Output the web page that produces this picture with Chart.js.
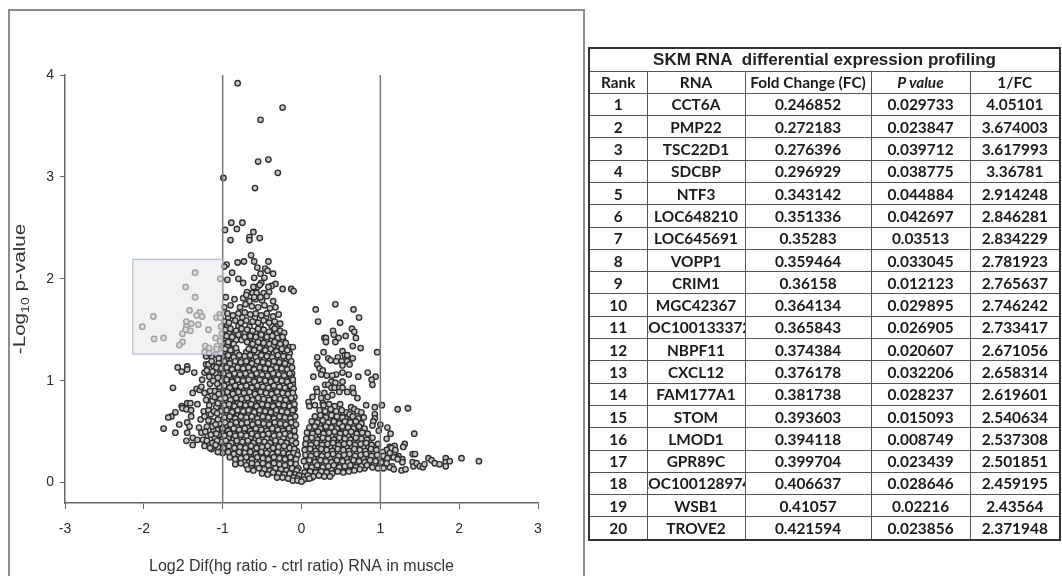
<!DOCTYPE html>
<html>
<head>
<meta charset="utf-8">
<script src="https://cdn.jsdelivr.net/npm/chart.js@4/dist/chart.umd.min.js"></script>
<style>
html, body { margin: 0; padding: 0; background: #fff; overflow: hidden; width: 1062px; height: 576px; }
#frame { position: absolute; left: 8px; top: 9px; width: 573px; height: 600px; border: 2px solid #8c8c8c; }
#plot { position: absolute; left: 0; top: 0; filter: blur(0.35px); }
#expr { position: absolute; left: 588px; top: 47px; width: 471px; border-collapse: collapse; table-layout: fixed;
        border: 2px solid #333; font: bold 15.4px Lato, sans-serif; color: #1a1a1a; text-align: center; filter: blur(0.35px); }
#expr td, #expr th { border: 1px solid #555; padding: 0; height: 21.3px; font-weight: bold; overflow: hidden; }
#expr .title { font: bold 17px "Liberation Sans", sans-serif; height: 21.5px; line-height: 20px; color: #222; }
#expr .cell { display: flex; justify-content: center; white-space: nowrap; overflow: hidden; }
</style>
</head>
<body>
<div id="frame"></div>
<canvas id="plot" width="583" height="576"></canvas>
<table id="expr"><colgroup><col style="width:58px"><col style="width:98px"><col style="width:126px"><col style="width:99px"><col style="width:90px"></colgroup><tbody></tbody></table>
<script>
const xTicks = [-3, -2, -1, 0, 1, 2, 3];
const yTicks = [0, 1, 2, 3, 4];
const cutoffs = [-1, 1];
const shadeX = [-2.14, -1];
const shadeY = [1.26, 2.19];

// x = log2 difference, y = -log10 p
const topPoints = [[-.81,3.92],[-.24,3.68],[-.52,3.56],[-.42,3.17],[-.55,3.15],[-.30,3.04],[-.99,2.99],[-.59,2.89],
[-.89,2.55],[-.75,2.55],[-.97,2.48],[-.82,2.49],[-.61,2.46],[-.66,2.41],[-.66,2.38],[-.53,2.40],[-.90,2.38],
[-.64,2.23],[-.60,2.17],[-.42,2.17],[-.81,2.16],[-.73,2.17],[-.95,2.14],[-.98,2.12],[-.56,2.11],[-.46,2.10],[-.43,2.08],
[-.88,2.06],[-.52,2.05],[-.36,2.05],[-.60,2.01],[-.47,2.01],[-.94,1.99],[-.80,2.00],[-.74,1.96],[-.51,1.96],
[-.24,1.90],[-.13,1.90],[-.10,1.88],[-.33,1.95],[-.38,1.93],[-.42,1.92],[-.41,1.87],[-.48,1.86],[-.56,1.92],[-.61,1.92],
[-.53,1.94],[-.69,1.87],[-.70,1.84],[-.62,1.86],[-.57,1.86],[-.60,1.82],[-.52,1.82],[-.44,1.83]];

const shadedPoints = [[-1.35,2.06],[-1.47,1.92],[-1.35,1.82],[-1.03,2.00],[-1.42,1.69],[-1.88,1.63],[-1.29,1.67],[-1.33,1.64],
[-1.26,1.63],[-1.46,1.58],[-1.40,1.56],[-1.31,1.55],[-2.02,1.53],[-1.46,1.53],[-1.41,1.49],[-1.47,1.50],[-1.51,1.46],
[-1.18,1.50],[-1.87,1.41],[-1.75,1.42],[-1.51,1.38],[-1.55,1.35],[-1.09,1.42],[-1.04,1.65],[-1.08,1.62],[-1.03,1.62],
[-1.02,1.53],[-1.03,1.39],[-1.07,1.34],[-1.08,1.31],[-1.22,1.34],[-1.17,1.32],[-1.23,1.28],[-1.17,1.27],[-1.03,1.27],[-1.01,1.46]];

const lowLeftPoints = [[-1.21,1.24],[-1.14,1.24],[-1.08,1.26],[-1.57,1.13],[-1.52,1.09],[-1.45,1.14],[-1.45,1.11],[-1.36,1.08],[-1.63,.93],
[-1.52,.75],[-1.51,.73],[-1.45,.78],[-1.41,.78],[-1.32,.77],[-1.46,.72],[-1.40,.71],[-1.40,.65],[-1.60,.69],[-1.65,.65],
[-1.69,.64],[-1.75,.53],[-1.55,.57],[-1.60,.49],[-1.45,.59],[-1.42,.55],[-1.45,.49],[-1.46,.41],[-1.38,.37],[-1.38,.44],
[-1.32,.42],[-1.33,.92],[-1.38,.88],[-1.29,.91],[-1.26,1.01],[-1.27,.94],[-1.23,1.08],[-1.21,1.16],[-1.18,1.16],[-1.19,.84],
[-1.23,.88],[-1.21,.81],[-1.20,1.10],[-1.17,1.04],[-1.16,.97],[-1.24,.70],[-1.18,.71],[-1.28,.62],[-1.23,.65],[-1.15,.67],
[-1.30,.54],[-1.27,.49],[-1.20,.55],[-1.13,.60],[-1.25,.42],[-1.19,.46],[-1.12,.52],[-1.23,.36],[-1.17,.39],[-1.10,.44],
[-1.14,.33],[-1.10,.90],[-1.13,.80],[-1.08,.74],[-1.11,1.14],[-1.14,1.19],[-1.06,.62],[-1.07,.97],[-1.09,1.07],[-1.16,.90],
[-1.12,1.00],[-1.06,1.03],[-1.13,1.09],[-1.08,1.13],[-1.05,1.22],[-1.10,.84],[-1.05,.87],[-1.06,.78],[-1.17,.76],[-1.11,.70],
[-1.07,.68],[-1.18,.61],[-1.13,.55],[-1.09,.57],[-1.22,.50],[-1.15,.47],[-1.08,.48],[-1.20,.41],[-1.13,.39],[-1.07,.41],[-1.16,.34],[-1.09,.37],[-1.06,.30]];

const leftLobe = [
[-.96,1.82],[-.85,1.80],[-.74,1.81],[-.66,1.78],[-.58,1.80],[-.50,1.79],[-.36,1.78],
[-.98,1.72],[-.90,1.74],[-.78,1.72],[-.71,1.75],[-.63,1.73],[-.55,1.72],[-.47,1.74],[-.40,1.71],[-.33,1.72],
[-.94,1.66],[-.87,1.64],[-.80,1.66],[-.72,1.67],[-.65,1.65],[-.58,1.66],[-.51,1.64],[-.44,1.66],[-.36,1.63],[-.29,1.65],
[-.98,1.58],[-.92,1.57],[-.84,1.59],[-.77,1.57],[-.70,1.59],[-.62,1.58],[-.55,1.57],[-.48,1.59],[-.41,1.57],[-.34,1.58],[-.27,1.56],
[-.97,1.50],[-.90,1.51],[-.83,1.49],[-.76,1.51],[-.69,1.50],[-.62,1.49],[-.55,1.51],[-.48,1.50],[-.41,1.48],[-.34,1.51],[-.27,1.49],[-.22,1.47],
[-.95,1.44],[-.88,1.43],[-.80,1.45],[-.72,1.43],[-.65,1.44],[-.58,1.43],[-.51,1.45],[-.44,1.43],[-.37,1.44],[-.30,1.42],[-.24,1.43],
[-1.0,1.37],[-.93,1.38],[-.86,1.36],[-.69,1.38],[-.62,1.36],[-.55,1.38],[-.48,1.37],[-.41,1.36],[-.34,1.38],[-.27,1.36],[-.20,1.37],[-.11,1.33],
[-1.04,1.30],[-.97,1.31],[-.90,1.30],[-.83,1.32],[-.67,1.31],[-.60,1.30],[-.53,1.32],[-.46,1.30],[-.39,1.31],[-.32,1.29],[-.25,1.31],[-.18,1.30],
[-1.0,1.24],[-.93,1.25],[-.86,1.23],[-.79,1.25],[-.72,1.24],[-.65,1.25],[-.58,1.23],[-.51,1.25],[-.44,1.24],[-.37,1.23],[-.30,1.25],[-.23,1.24],[-.16,1.23],
[-1.05,1.18],[-.98,1.19],[-.91,1.17],[-.84,1.19],[-.77,1.18],[-.70,1.19],[-.63,1.17],[-.56,1.19],[-.49,1.18],[-.42,1.17],[-.35,1.19],[-.28,1.18],[-.21,1.17],[-.13,1.19],
[-1.02,1.12],[-.95,1.13],[-.88,1.11],[-.81,1.13],[-.74,1.12],[-.67,1.13],[-.60,1.11],[-.53,1.13],[-.46,1.12],[-.39,1.11],[-.32,1.13],[-.25,1.12],[-.18,1.11],[-.12,1.13],
[-1.05,1.06],[-.99,1.07],[-.92,1.05],[-.85,1.07],[-.78,1.06],[-.71,1.07],[-.64,1.05],[-.57,1.07],[-.50,1.06],[-.43,1.05],[-.36,1.07],[-.29,1.06],[-.22,1.05],[-.15,1.07],
[-1.02,1.00],[-.95,1.01],[-.88,.99],[-.81,1.01],[-.74,1.00],[-.67,1.01],[-.60,.99],[-.53,1.01],[-.46,1.00],[-.39,.99],[-.32,1.01],[-.25,1.00],[-.18,.99],[-.11,1.01],
[-1.04,.94],[-.98,.95],[-.91,.93],[-.84,.95],[-.77,.94],[-.70,.95],[-.63,.93],[-.56,.95],[-.49,.94],[-.42,.93],[-.35,.95],[-.28,.94],[-.21,.93],[-.14,.95],[-.10,.92],
[-1.0,.88],[-.94,.89],[-.87,.87],[-.80,.89],[-.73,.88],[-.66,.89],[-.59,.87],[-.52,.89],[-.45,.88],[-.38,.87],[-.31,.89],[-.24,.88],[-.17,.87],[-.11,.88],
[-1.03,.82],[-.97,.83],[-.90,.81],[-.83,.83],[-.76,.82],[-.69,.83],[-.62,.81],[-.55,.83],[-.48,.82],[-.41,.81],[-.34,.83],[-.27,.82],[-.20,.81],[-.13,.83],
[-.98,.76],[-.92,.77],[-.85,.75],[-.78,.77],[-.71,.76],[-.64,.77],[-.57,.75],[-.50,.77],[-.43,.76],[-.36,.75],[-.29,.77],[-.22,.76],[-.15,.75],[-.09,.77],
[-1.02,.70],[-.95,.71],[-.88,.69],[-.81,.71],[-.74,.70],[-.67,.71],[-.60,.69],[-.53,.71],[-.46,.70],[-.39,.69],[-.32,.71],[-.25,.70],[-.18,.69],[-.11,.71],
[-.98,.64],[-.91,.65],[-.84,.63],[-.77,.65],[-.70,.64],[-.63,.65],[-.56,.63],[-.49,.65],[-.42,.64],[-.35,.63],[-.28,.65],[-.21,.64],[-.14,.63],[-.08,.65],
[-1.04,.58],[-.97,.59],[-.90,.57],[-.83,.59],[-.76,.58],[-.69,.59],[-.62,.57],[-.55,.59],[-.48,.58],[-.41,.57],[-.34,.59],[-.27,.58],[-.20,.57],[-.13,.59],[-.07,.57],
[-1.07,.52],[-1.0,.53],[-.93,.51],[-.86,.53],[-.79,.52],[-.72,.53],[-.65,.51],[-.58,.53],[-.51,.52],[-.44,.51],[-.37,.53],[-.30,.52],[-.23,.51],[-.16,.53],[-.09,.51],
[-1.05,.47],[-.98,.46],[-.91,.48],[-.84,.46],[-.77,.47],[-.70,.46],[-.63,.48],[-.56,.46],[-.49,.47],[-.42,.48],[-.35,.46],[-.28,.47],[-.21,.48],[-.14,.46],[-.08,.45],
[-1.03,.40],[-.96,.41],[-.89,.39],[-.82,.41],[-.75,.40],[-.68,.41],[-.61,.39],[-.54,.41],[-.47,.40],[-.40,.39],[-.33,.41],[-.26,.40],[-.19,.39],[-.12,.41],[-.07,.39],
[-1.06,.35],[-.99,.34],[-.92,.36],[-.85,.34],[-.78,.35],[-.71,.34],[-.64,.36],[-.57,.34],[-.50,.35],[-.43,.36],[-.36,.34],[-.29,.35],[-.22,.36],[-.15,.34],[-.09,.33],
[-1.0,.29],[-.93,.30],[-.86,.28],[-.79,.30],[-.72,.29],[-.65,.30],[-.58,.28],[-.51,.30],[-.44,.29],[-.37,.28],[-.30,.30],[-.23,.29],[-.16,.28],[-.10,.29],[-.05,.27],
[-.91,.25],[-.84,.23],[-.77,.24],[-.70,.25],[-.63,.23],[-.56,.25],[-.49,.24],[-.42,.23],[-.35,.25],[-.28,.24],[-.21,.23],[-.14,.25],[-.07,.23],
[-.84,.18],[-.77,.19],[-.70,.17],[-.63,.19],[-.56,.18],[-.49,.19],[-.42,.17],[-.35,.19],[-.28,.18],[-.21,.17],[-.14,.19],[-.07,.18],[-.04,.14],
[-.68,.13],[-.61,.12],[-.54,.14],[-.47,.13],[-.40,.12],[-.33,.14],[-.26,.13],[-.19,.12],[-.12,.14],[-.06,.12],
[-.50,.09],[-.43,.08],[-.36,.10],[-.29,.09],[-.22,.08],[-.15,.09],[-.08,.08],[-.03,.07],
[-.31,.05],[-.24,.05],[-.17,.04],[-.10,.05],[-.05,.04],[-.11,.02],[-.05,.02],[.0,.01]];

// second pass over the same lobe, the black core of the cloud
const leftCore = [
[-.93,1.62],[-.75,1.62],[-.59,1.62],[-.45,1.62],
[-.94,1.54],[-.80,1.54],[-.66,1.53],[-.52,1.55],[-.38,1.54],[-.30,1.54],
[-.92,1.47],[-.85,1.46],[-.78,1.47],[-.66,1.47],[-.58,1.47],[-.52,1.48],[-.44,1.47],[-.38,1.46],[-.31,1.46],[-.25,1.46],
[-.97,1.40],[-.90,1.41],[-.83,1.40],[-.76,1.40],[-.67,1.41],[-.59,1.40],[-.52,1.41],[-.45,1.40],[-.38,1.41],[-.31,1.39],[-.23,1.39],
[-1.0,1.33],[-.94,1.34],[-.87,1.33],[-.64,1.34],[-.57,1.34],[-.50,1.34],[-.43,1.33],[-.36,1.34],[-.29,1.33],[-.22,1.33],[-.15,1.33],
[-.97,1.27],[-.90,1.28],[-.82,1.28],[-.70,1.28],[-.63,1.27],[-.56,1.28],[-.49,1.27],[-.42,1.28],[-.35,1.27],[-.28,1.28],[-.21,1.27],[-.15,1.27],
[-1.02,1.21],[-.95,1.22],[-.89,1.20],[-.82,1.22],[-.75,1.21],[-.68,1.22],[-.61,1.20],[-.54,1.22],[-.47,1.21],[-.40,1.20],[-.33,1.22],[-.26,1.21],[-.19,1.20],
[-.98,1.15],[-.92,1.14],[-.85,1.16],[-.78,1.15],[-.71,1.14],[-.64,1.15],[-.57,1.16],[-.50,1.15],[-.43,1.14],[-.36,1.15],[-.29,1.16],[-.22,1.14],[-.15,1.15],
[-1.0,1.09],[-.95,1.08],[-.88,1.09],[-.81,1.08],[-.74,1.09],[-.67,1.08],[-.60,1.09],[-.53,1.08],[-.46,1.09],[-.39,1.08],[-.32,1.09],[-.25,1.08],[-.18,1.09],[-.12,1.07],
[-.97,1.03],[-.90,1.02],[-.83,1.04],[-.76,1.03],[-.69,1.04],[-.62,1.02],[-.55,1.04],[-.48,1.03],[-.41,1.02],[-.34,1.04],[-.27,1.03],[-.20,1.02],[-.13,1.04],
[-1.0,.97],[-.94,.98],[-.87,.96],[-.80,.98],[-.73,.97],[-.66,.98],[-.59,.96],[-.52,.98],[-.45,.97],[-.38,.96],[-.31,.98],[-.24,.97],[-.17,.96],[-.11,.97],
[-.96,.91],[-.89,.92],[-.82,.90],[-.75,.92],[-.68,.91],[-.61,.90],[-.54,.92],[-.47,.91],[-.40,.90],[-.33,.92],[-.26,.91],[-.19,.90],[-.12,.92],
[-.99,.85],[-.92,.84],[-.85,.86],[-.78,.85],[-.71,.84],[-.64,.85],[-.57,.86],[-.50,.85],[-.43,.84],[-.36,.85],[-.29,.86],[-.22,.84],[-.15,.85],[-.09,.84],
[-.95,.79],[-.88,.80],[-.81,.78],[-.74,.80],[-.67,.79],[-.60,.78],[-.53,.80],[-.46,.79],[-.39,.78],[-.32,.80],[-.25,.79],[-.18,.78],[-.11,.80],
[-1.0,.73],[-.93,.74],[-.86,.72],[-.79,.74],[-.72,.73],[-.65,.72],[-.58,.74],[-.51,.73],[-.44,.72],[-.37,.74],[-.30,.73],[-.23,.72],[-.16,.74],[-.09,.72],
[-.95,.67],[-.88,.68],[-.81,.66],[-.74,.68],[-.67,.67],[-.60,.66],[-.53,.68],[-.46,.67],[-.39,.66],[-.32,.68],[-.25,.67],[-.18,.66],[-.11,.68],
[-1.01,.61],[-.94,.62],[-.87,.60],[-.80,.62],[-.73,.61],[-.66,.60],[-.59,.62],[-.52,.61],[-.45,.60],[-.38,.62],[-.31,.61],[-.24,.60],[-.17,.62],[-.10,.60],
[-1.03,.55],[-.96,.56],[-.89,.54],[-.82,.56],[-.75,.55],[-.68,.54],[-.61,.56],[-.54,.55],[-.47,.54],[-.40,.56],[-.33,.55],[-.26,.54],[-.19,.56],[-.12,.54],
[-1.0,.49],[-.94,.50],[-.87,.49],[-.80,.50],[-.73,.49],[-.66,.48],[-.59,.50],[-.52,.49],[-.45,.48],[-.38,.50],[-.31,.49],[-.24,.48],[-.17,.50],[-.10,.48],
[-1.0,.43],[-.93,.44],[-.86,.43],[-.79,.44],[-.72,.43],[-.65,.44],[-.58,.43],[-.51,.44],[-.44,.43],[-.37,.44],[-.30,.43],[-.23,.44],[-.16,.43],[-.09,.42],
[-1.02,.37],[-.95,.38],[-.88,.37],[-.81,.38],[-.74,.37],[-.67,.38],[-.60,.37],[-.53,.38],[-.46,.37],[-.39,.38],[-.32,.37],[-.25,.38],[-.18,.37],[-.11,.37],
[-.96,.32],[-.89,.33],[-.82,.32],[-.75,.33],[-.68,.32],[-.61,.33],[-.54,.32],[-.47,.33],[-.40,.32],[-.33,.33],[-.26,.32],[-.19,.33],[-.12,.31],[-.06,.31],
[-.88,.27],[-.81,.27],[-.74,.27],[-.67,.27],[-.60,.27],[-.53,.27],[-.46,.27],[-.39,.27],[-.32,.27],[-.25,.27],[-.18,.26],[-.11,.26],
[-.80,.21],[-.73,.21],[-.66,.21],[-.59,.21],[-.52,.21],[-.45,.21],[-.38,.21],[-.31,.21],[-.24,.21],[-.17,.21],[-.10,.21],
[-.64,.16],[-.57,.15],[-.50,.16],[-.43,.15],[-.36,.16],[-.29,.15],[-.22,.16],[-.15,.15],[-.08,.15],
[-.39,.10],[-.32,.11],[-.25,.10],[-.18,.11],[-.11,.10],[-.21,.06],[-.14,.06],[-.07,.06]];

const rightLobe = [
[.43,1.75],[.18,1.70],[.66,1.70],[.73,1.62],[.21,1.58],[.49,1.57],[.64,1.51],[.40,1.49],[.67,1.48],[.41,1.45],[.47,1.42],
[.29,1.42],[.31,1.42],[.31,1.38],[.43,1.38],[.56,1.44],[.69,1.42],[.65,1.34],[.75,1.32],[.52,1.29],[.28,1.28],[.96,1.28],
[.55,1.25],[.58,1.25],[.65,1.22],[.20,1.23],[.34,1.22],[.37,1.20],[.46,1.23],[.44,1.19],[.51,1.19],[.58,1.19],[.61,1.16],
[.52,1.15],[.20,1.16],[.23,1.12],[.27,1.10],[.15,1.04],[.84,1.08],[.94,1.04],[.89,1.01],[.90,.96],[.72,1.04],[.60,1.06],
[.52,1.08],[.44,1.06],[.39,1.05],[.32,1.05],[.25,1.06],[.38,.99],[.30,.96],[.34,.96],[.43,.98],[.52,.99],[.38,.93],[.19,.92],
[.20,.89],[.29,.88],[.42,.93],[.48,.93],[.52,.93],[.65,.93],[.58,.89],[.66,.88],[.48,.89],[.39,.86],[.33,.84],[.25,.83],
[.27,.78],[.71,.83],[.14,.84],[.09,.79],[.10,.75],[.17,.76],[.82,.76],[.93,.74],[1.02,.76],[1.22,.72],[1.35,.73],
[.63,.74],[.67,.72],[.71,.70],[.57,.69],[.76,.69],[.79,.64],[.61,.67],[.65,.65],[.93,.67],[.93,.63],[.91,.60],[.90,.56],
[.98,.51],[1.00,.57],[1.09,.54],[1.13,.48],[1.08,.43],[1.43,.48],[1.31,.38],[1.29,.35],[1.41,.28],[1.44,.28],[1.61,.24],
[1.65,.22],[1.69,.19],[1.75,.18],[1.83,.24],[1.83,.20],[1.83,.16],[1.88,.21],[2.03,.24],[2.25,.21],[1.41,.20],[1.42,.16],
[1.46,.19],[1.50,.16],[1.54,.15],[1.56,.18],[1.27,.12],[1.32,.13],[1.28,.23],[1.28,.20],[1.23,.26],[1.20,.25],[1.15,.25],
[1.12,.35],[1.18,.36],[1.14,.34],[1.08,.32],[1.19,.32],[1.12,.29],[1.17,.25],[1.22,.23],[1.15,.16],[1.12,.15],[1.17,.13],
[.28,.76],[.35,.77],[.42,.75],[.49,.77],
[.23,.71],[.30,.70],[.37,.72],[.44,.70],[.51,.71],
[.17,.65],[.24,.66],[.31,.64],[.38,.66],[.45,.65],[.52,.64],[.72,.63],
[.13,.60],[.20,.59],[.27,.61],[.34,.59],[.41,.60],[.48,.58],[.55,.60],[.62,.59],[.69,.60],[.76,.58],
[.10,.54],[.17,.55],[.24,.53],[.31,.55],[.38,.54],[.45,.53],[.52,.55],[.59,.54],[.66,.53],[.73,.55],[.80,.53],
[.07,.49],[.14,.48],[.21,.50],[.28,.48],[.35,.49],[.42,.50],[.49,.48],[.56,.49],[.63,.50],[.70,.48],[.77,.49],[.84,.48],
[.06,.43],[.13,.44],[.20,.42],[.27,.44],[.34,.43],[.41,.42],[.48,.44],[.55,.43],[.62,.42],[.69,.44],[.76,.43],[.83,.42],[.90,.44],
[.05,.38],[.12,.37],[.19,.39],[.26,.37],[.33,.38],[.40,.39],[.47,.37],[.54,.38],[.61,.39],[.68,.37],[.75,.38],[.82,.39],[.89,.37],[.97,.38],
[.04,.32],[.11,.33],[.18,.31],[.25,.33],[.32,.32],[.39,.31],[.46,.33],[.53,.32],[.60,.31],[.67,.33],[.74,.32],[.81,.31],[.88,.33],[.95,.32],[1.03,.30],
[.05,.27],[.12,.26],[.19,.28],[.26,.26],[.33,.27],[.40,.28],[.47,.26],[.54,.27],[.61,.28],[.68,.26],[.75,.27],[.82,.28],[.89,.26],[.96,.27],[1.04,.26],[1.09,.24],
[.03,.21],[.10,.22],[.17,.20],[.24,.22],[.31,.21],[.38,.20],[.45,.22],[.52,.21],[.59,.20],[.66,.22],[.73,.21],[.80,.20],[.87,.22],[.94,.21],[1.01,.20],[1.08,.19],
[.06,.16],[.13,.15],[.20,.17],[.27,.15],[.34,.16],[.41,.17],[.48,.15],[.55,.16],[.62,.17],[.69,.15],[.76,.16],[.83,.17],[.90,.15],[.97,.14],[1.04,.14],
[.04,.10],[.11,.11],[.18,.10],[.25,.11],[.32,.10],[.39,.09],[.46,.11],[.53,.10],[.60,.11],[.67,.12],[.74,.13],[.02,.06],[.08,.07],[.15,.06],[.22,.07],[.29,.06],[.36,.06],[.03,.03],[.10,.04]];

const rightCore = [
[.26,.68],[.33,.67],[.40,.68],[.47,.68],[.21,.62],[.28,.63],[.35,.62],[.42,.63],[.49,.62],[.56,.63],[.63,.62],
[.16,.57],[.23,.57],[.30,.58],[.37,.57],[.44,.56],[.51,.57],[.58,.57],[.65,.56],[.72,.57],
[.12,.52],[.19,.52],[.26,.51],[.33,.52],[.40,.51],[.47,.51],[.54,.52],[.61,.51],[.68,.51],[.75,.52],
[.10,.46],[.17,.46],[.24,.47],[.31,.46],[.38,.46],[.45,.47],[.52,.46],[.59,.46],[.66,.47],[.73,.46],[.80,.46],
[.09,.41],[.16,.41],[.23,.41],[.30,.41],[.37,.41],[.44,.40],[.51,.41],[.58,.41],[.65,.40],[.72,.41],[.79,.41],[.86,.40],
[.08,.35],[.15,.35],[.22,.35],[.29,.35],[.36,.35],[.43,.35],[.50,.35],[.57,.35],[.64,.35],[.71,.35],[.78,.35],[.85,.35],[.92,.35],
[.08,.29],[.15,.30],[.22,.29],[.29,.30],[.36,.29],[.43,.30],[.50,.29],[.57,.30],[.64,.29],[.71,.30],[.78,.29],[.85,.30],[.92,.29],[.99,.29],
[.08,.24],[.15,.24],[.22,.24],[.29,.24],[.36,.24],[.43,.24],[.50,.24],[.57,.24],[.64,.24],[.71,.24],[.78,.24],[.85,.24],[.92,.24],[.99,.24],[1.06,.22],
[.08,.18],[.15,.19],[.22,.18],[.29,.19],[.36,.18],[.43,.19],[.50,.18],[.57,.19],[.64,.18],[.71,.19],[.78,.18],[.85,.19],[.92,.18],[.99,.17],
[.10,.13],[.17,.13],[.24,.13],[.31,.13],[.38,.13],[.45,.13],[.52,.13],[.59,.14],[.66,.14],[.73,.15],[.80,.14],
[.07,.09],[.14,.08],[.21,.08],[.28,.08],[.35,.08],[.06,.04],[.13,.05]];

const ranks = ['1','2','3','4','5','6','7','8','9','10','11','12','13','14','15','16','17','18','19','20'];
const rnaNames = ['CCT6A','PMP22','TSC22D1','SDCBP','NTF3','LOC648210','LOC645691','VOPP1','CRIM1','MGC42367','LOC100133372','NBPF11','CXCL12','FAM177A1','STOM','LMOD1','GPR89C','LOC100128974','WSB1','TROVE2'];
const foldChange = ['0.246852','0.272183','0.276396','0.296929','0.343142','0.351336','0.35283','0.359464','0.36158','0.364134','0.365843','0.374384','0.376178','0.381738','0.393603','0.394118','0.399704','0.406637','0.41057','0.421594'];
const pValues = ['0.029733','0.023847','0.039712','0.038775','0.044884','0.042697','0.03513','0.033045','0.012123','0.029895','0.026905','0.020607','0.032206','0.028237','0.015093','0.008749','0.023439','0.028646','0.02216','0.023856'];
const inverseFC = ['4.05101','3.674003','3.617993','3.36781','2.914248','2.846281','2.834229','2.781923','2.765637','2.746242','2.733417','2.671056','2.658314','2.619601','2.540634','2.537308','2.501851','2.459195','2.43564','2.371948'];

const AXIS_GREY = '#666';
const FONT = '"Liberation Sans", Arial, sans-serif';

function toXY(list) {
    return list.map(p => ({ x: p[0], y: p[1] }));
}

function buildTable() {
    const tbody = document.querySelector('#expr tbody');
    const titleRow = document.createElement('tr');
    titleRow.innerHTML = '<td class="title" colspan="5">SKM RNA&nbsp; differential expression profiling</td>';
    tbody.appendChild(titleRow);
    const head = document.createElement('tr');
    head.innerHTML = '<th>Rank</th><th>RNA</th><th>Fold Change (FC)</th><th><i>P value</i></th><th>1/FC</th>';
    tbody.appendChild(head);
    ranks.forEach((r, i) => {
        const tr = document.createElement('tr');
        [r, rnaNames[i], foldChange[i], pValues[i], inverseFC[i]].forEach(txt => {
            const td = document.createElement('td');
            const div = document.createElement('div');
            div.className = 'cell';
            div.textContent = txt;
            td.appendChild(div);
            tr.appendChild(td);
        });
        tbody.appendChild(tr);
    });
}

// grey box over the points, open side sits on the x=-1 line
const shadeBox = {
    id: 'shadeBox',
    afterDatasetsDraw(chart) {
        const { ctx, scales: { x, y } } = chart;
        const l = x.getPixelForValue(shadeX[0]), r = x.getPixelForValue(shadeX[1]);
        const t = y.getPixelForValue(shadeY[1]), b = y.getPixelForValue(shadeY[0]);
        ctx.save();
        ctx.fillStyle = 'rgba(234,234,234,0.6)';
        ctx.fillRect(l, t, r - l, b - t);
        ctx.strokeStyle = '#b4c0d4';
        ctx.lineWidth = 1.3;
        ctx.beginPath();
        ctx.moveTo(r, t);
        ctx.lineTo(l, t);
        ctx.lineTo(l, b);
        ctx.lineTo(r, b);
        ctx.stroke();
        ctx.restore();
    }
};

// y title needs a subscript, which the scale title can't do
const yTitle = {
    id: 'yTitle',
    afterDraw(chart) {
        const { ctx } = chart;
        ctx.save();
        ctx.translate(21, 291);
        ctx.rotate(-Math.PI / 2);
        ctx.scale(1.29, 1);
        ctx.fillStyle = '#333';
        ctx.textBaseline = 'middle';
        ctx.textAlign = 'left';
        let px = -49;
        ctx.font = '16px ' + FONT;
        ctx.fillText('-Log', px, 0);
        px += ctx.measureText('-Log').width;
        ctx.font = '11px ' + FONT;
        ctx.fillText('10', px, 5);
        px += ctx.measureText('10').width;
        ctx.font = '16px ' + FONT;
        ctx.fillText(' p-value', px, 0);
        ctx.restore();
    }
};

function initChart() {
    const pointStyle = {
        showLine: false,
        pointRadius: 2.7,
        pointBorderWidth: 1.4,
        pointBorderColor: '#303030',
        pointBackgroundColor: '#c8c8c8'
    };
    const cutoffSets = cutoffs.map(c => ({
        data: [{ x: c, y: -0.2 }, { x: c, y: 4 }],
        showLine: true,
        pointRadius: 0,
        borderColor: '#777',
        borderWidth: 1.5
    }));
    new Chart(document.getElementById('plot').getContext('2d'), {
        type: 'scatter',
        data: {
            datasets: [
                ...cutoffSets,
                { data: toXY(topPoints), ...pointStyle },
                { data: toXY(shadedPoints), ...pointStyle },
                { data: toXY(lowLeftPoints), ...pointStyle },
                { data: toXY(leftLobe), ...pointStyle },
                { data: toXY(leftCore), ...pointStyle },
                { data: toXY(rightLobe), ...pointStyle },
                { data: toXY(rightCore), ...pointStyle }
            ]
        },
        options: {
            responsive: false,
            animation: false,
            layout: { padding: { top: 75, right: 45, left: 0, bottom: 0 } },
            plugins: { legend: { display: false }, tooltip: { enabled: false } },
            scales: {
                x: {
                    type: 'linear',
                    min: -3,
                    max: 3,
                    afterBuildTicks(axis) { axis.ticks = xTicks.map(v => ({ value: v })); },
                    afterFit(axis) { axis.height = 73; },
                    grid: { drawOnChartArea: false, color: AXIS_GREY, tickLength: 6 },
                    border: { color: AXIS_GREY, width: 1.5 },
                    ticks: { color: '#2a2a2a', font: { family: FONT, size: 14 }, padding: 12, maxRotation: 0, autoSkip: false },
                    title: {
                        display: true,
                        text: 'Log2 Dif(hg ratio - ctrl ratio) RNA in muscle',
                        color: '#333',
                        font: { family: FONT, size: 16 },
                        padding: { top: 10, bottom: 0 }
                    }
                },
                y: {
                    type: 'linear',
                    min: -0.2,
                    max: 4,
                    afterBuildTicks(axis) { axis.ticks = yTicks.map(v => ({ value: v })); },
                    afterFit(axis) { axis.width = 65; },
                    grid: { drawOnChartArea: false, color: AXIS_GREY, tickLength: 5 },
                    border: { color: AXIS_GREY, width: 1.5 },
                    ticks: { color: '#2a2a2a', font: { family: FONT, size: 14 }, padding: 6, autoSkip: false }
                }
            }
        },
        plugins: [shadeBox, yTitle]
    });
}

buildTable();
initChart();
</script>
</body>
</html>
